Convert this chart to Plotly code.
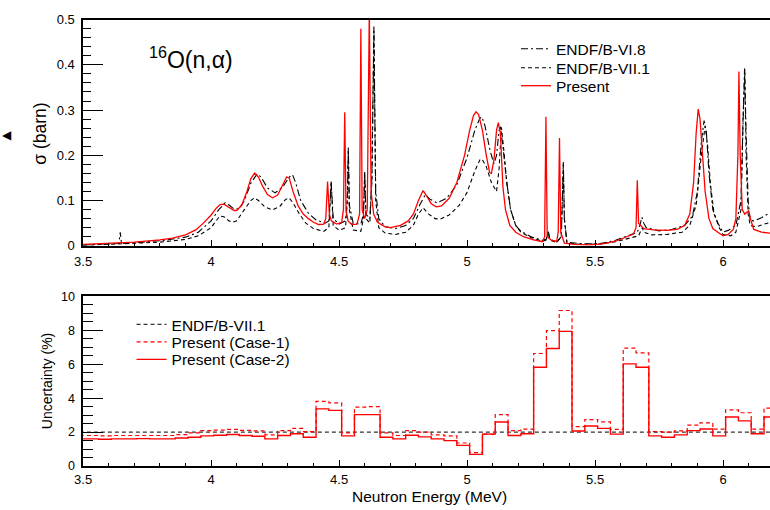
import plotly.graph_objects as go

# ---------------- data: cross sections (MeV, barn) ----------------
e_present = [3.50, 3.60, 3.70, 3.80, 3.85, 3.90, 3.94, 3.97, 4.00, 4.02, 4.035, 4.05, 4.07, 4.09, 4.10,
             4.12, 4.14, 4.155, 4.17, 4.185, 4.20, 4.22, 4.24, 4.26, 4.28, 4.295, 4.305, 4.32, 4.34, 4.36,
             4.38, 4.40, 4.42, 4.44, 4.448, 4.455, 4.462, 4.47, 4.49, 4.51, 4.517, 4.522, 4.527, 4.535,
             4.55, 4.57, 4.58, 4.585, 4.59, 4.60, 4.61, 4.618, 4.625, 4.635, 4.65, 4.68, 4.70, 4.74, 4.77,
             4.79, 4.81, 4.828, 4.84, 4.86, 4.88, 4.90, 4.93, 4.96, 4.99, 5.01, 5.025, 5.035, 5.045, 5.06,
             5.075, 5.088, 5.095, 5.105, 5.115, 5.122, 5.13, 5.14, 5.15, 5.167, 5.19, 5.22, 5.26, 5.295,
             5.303, 5.308, 5.313, 5.33, 5.35, 5.356, 5.361, 5.366, 5.38, 5.42, 5.48, 5.53, 5.58, 5.62, 5.65,
             5.66, 5.665, 5.67, 5.69, 5.73, 5.78, 5.82, 5.85, 5.87, 5.885, 5.895, 5.903, 5.91, 5.92, 5.93,
             5.945, 5.96, 5.98, 6.00, 6.02, 6.04, 6.05, 6.058, 6.062, 6.067, 6.075, 6.085, 6.095, 6.10,
             6.107, 6.12, 6.15, 6.20]
s_present = [0.003, 0.005, 0.008, 0.013, 0.017, 0.024, 0.035, 0.050, 0.068, 0.083, 0.091, 0.092, 0.085, 0.078, 0.078,
             0.090, 0.120, 0.148, 0.161, 0.152, 0.133, 0.113, 0.106, 0.112, 0.135, 0.152, 0.150, 0.120, 0.088, 0.070,
             0.060, 0.052, 0.047, 0.048, 0.060, 0.142, 0.070, 0.055, 0.048, 0.052, 0.080, 0.295, 0.080, 0.055,
             0.047, 0.048, 0.070, 0.480, 0.080, 0.060, 0.080, 0.520, 0.120, 0.070, 0.052, 0.042, 0.040, 0.045, 0.055,
             0.070, 0.100, 0.122, 0.112, 0.093, 0.086, 0.088, 0.105, 0.140, 0.200, 0.255, 0.288, 0.296, 0.290, 0.255,
             0.200, 0.162, 0.160, 0.190, 0.255, 0.272, 0.250, 0.130, 0.080, 0.045, 0.030, 0.020, 0.013, 0.009,
             0.020, 0.285, 0.020, 0.012, 0.010, 0.030, 0.238, 0.030, 0.006, 0.003, 0.002, 0.004, 0.010, 0.020, 0.026,
             0.040, 0.145, 0.050, 0.038, 0.035, 0.034, 0.036, 0.045, 0.070, 0.140, 0.250, 0.302, 0.280, 0.200, 0.120,
             0.060, 0.038, 0.030, 0.022, 0.025, 0.036, 0.060, 0.200, 0.385, 0.200, 0.080, 0.070, 0.075, 0.077,
             0.060, 0.036, 0.030, 0.027]

e_b6 = [3.50, 3.60, 3.64, 3.645, 3.65, 3.70, 3.80, 3.90, 3.95, 4.00, 4.03, 4.055, 4.07, 4.09, 4.11, 4.13,
        4.155, 4.18, 4.195, 4.22, 4.25, 4.28, 4.305, 4.318, 4.33, 4.35, 4.38, 4.41, 4.445, 4.46, 4.469, 4.477,
        4.50, 4.525, 4.532, 4.536, 4.54, 4.555, 4.585, 4.595, 4.60, 4.605, 4.62, 4.628, 4.636, 4.643, 4.655,
        4.68, 4.72, 4.76, 4.79, 4.815, 4.837, 4.855, 4.882, 4.92, 4.96, 5.00, 5.03, 5.05, 5.058, 5.07, 5.09,
        5.105, 5.115, 5.125, 5.13, 5.14, 5.155, 5.17, 5.19, 5.21, 5.25, 5.295, 5.31, 5.317, 5.323, 5.35,
        5.368, 5.372, 5.376, 5.38, 5.39, 5.45, 5.52, 5.58, 5.63, 5.665, 5.675, 5.683, 5.69, 5.70, 5.75, 5.80,
        5.85, 5.88, 5.90, 5.915, 5.926, 5.935, 5.945, 5.96, 5.98, 6.00, 6.02, 6.05, 6.07, 6.078, 6.084, 6.09,
        6.098, 6.106, 6.12, 6.15, 6.18, 6.20]
s_b6 = [0.002, 0.004, 0.005, 0.030, 0.005, 0.007, 0.011, 0.019, 0.030, 0.055, 0.080, 0.095, 0.090, 0.081, 0.082, 0.100,
        0.138, 0.159, 0.152, 0.128, 0.117, 0.130, 0.152, 0.157, 0.140, 0.100, 0.072, 0.057, 0.050, 0.055, 0.142, 0.060,
        0.048, 0.055, 0.100, 0.217, 0.090, 0.050, 0.048, 0.070, 0.163, 0.070, 0.060, 0.150, 0.485, 0.120, 0.060,
        0.042, 0.038, 0.045, 0.060, 0.090, 0.113, 0.103, 0.095, 0.105, 0.135, 0.195, 0.255, 0.282, 0.285, 0.265, 0.210,
        0.181, 0.200, 0.255, 0.263, 0.220, 0.140, 0.080, 0.045, 0.032, 0.020, 0.012, 0.015, 0.034, 0.015, 0.008,
        0.020, 0.100, 0.185, 0.060, 0.008, 0.004, 0.005, 0.012, 0.022, 0.030, 0.045, 0.063, 0.050, 0.040, 0.033, 0.036,
        0.045, 0.065, 0.120, 0.230, 0.277, 0.250, 0.160, 0.080, 0.050, 0.030, 0.034, 0.045, 0.100, 0.300, 0.392, 0.250,
        0.100, 0.056, 0.055, 0.062, 0.072, 0.076]

e_b7 = [3.50, 3.60, 3.70, 3.80, 3.90, 3.95, 4.00, 4.02, 4.034, 4.05, 4.07, 4.085, 4.10, 4.13, 4.155, 4.169,
        4.185, 4.21, 4.24, 4.27, 4.29, 4.304, 4.32, 4.345, 4.37, 4.40, 4.44, 4.46, 4.469, 4.477, 4.50, 4.525,
        4.532, 4.536, 4.54, 4.555, 4.585, 4.595, 4.60, 4.605, 4.62, 4.628, 4.636, 4.643, 4.655, 4.68, 4.72,
        4.76, 4.79, 4.81, 4.828, 4.85, 4.875, 4.895, 4.93, 4.97, 5.00, 5.03, 5.05, 5.058, 5.075, 5.095, 5.115,
        5.125, 5.134, 5.142, 5.155, 5.17, 5.19, 5.21, 5.25, 5.295, 5.31, 5.317, 5.323, 5.35, 5.368, 5.372,
        5.376, 5.38, 5.39, 5.45, 5.52, 5.58, 5.63, 5.67, 5.68, 5.685, 5.69, 5.72, 5.78, 5.84, 5.87, 5.895,
        5.915, 5.93, 5.94, 5.95, 5.965, 5.985, 6.00, 6.03, 6.05, 6.07, 6.078, 6.085, 6.09, 6.098, 6.106, 6.13,
        6.16, 6.20]
s_b7 = [0.001, 0.003, 0.005, 0.008, 0.014, 0.022, 0.040, 0.055, 0.066, 0.064, 0.055, 0.052, 0.055, 0.080, 0.100, 0.106,
        0.100, 0.086, 0.079, 0.088, 0.102, 0.106, 0.095, 0.070, 0.050, 0.038, 0.032, 0.040, 0.140, 0.045, 0.034, 0.040,
        0.100, 0.210, 0.080, 0.035, 0.032, 0.060, 0.160, 0.060, 0.050, 0.140, 0.475, 0.100, 0.040, 0.028, 0.025,
        0.030, 0.045, 0.070, 0.084, 0.070, 0.060, 0.059, 0.068, 0.090, 0.118, 0.165, 0.190, 0.192, 0.175, 0.140, 0.120,
        0.170, 0.262, 0.220, 0.140, 0.080, 0.045, 0.030, 0.018, 0.010, 0.013, 0.030, 0.013, 0.007, 0.020, 0.100,
        0.180, 0.060, 0.006, 0.003, 0.004, 0.009, 0.016, 0.022, 0.035, 0.040, 0.030, 0.024, 0.025, 0.030, 0.045, 0.090,
        0.200, 0.265, 0.220, 0.140, 0.070, 0.040, 0.025, 0.022, 0.030, 0.080, 0.280, 0.390, 0.200, 0.070, 0.045, 0.042,
        0.048, 0.054]

# ---------------- data: uncertainties (%) ----------------
bin_edges = [3.46, 3.51, 3.56, 3.61, 3.66, 3.71, 3.76, 3.81, 3.86, 3.91, 3.96, 4.01, 4.06, 4.11, 4.16, 4.21,
             4.26, 4.31, 4.36, 4.41, 4.46, 4.51, 4.56, 4.61, 4.66, 4.71, 4.76, 4.81, 4.86, 4.91, 4.96, 5.01,
             5.06, 5.11, 5.16, 5.21, 5.26, 5.31, 5.36, 5.41, 5.46, 5.51, 5.56, 5.61, 5.66, 5.71, 5.76, 5.81,
             5.86, 5.91, 5.96, 6.01, 6.06, 6.11, 6.16, 6.21]
unc_case2 = [1.60, 1.60, 1.58, 1.60, 1.60, 1.62, 1.60, 1.60, 1.65, 1.70, 1.78, 1.82, 1.86, 1.80, 1.76, 1.60,
             1.80, 1.90, 1.70, 3.37, 3.28, 1.78, 3.03, 3.03, 1.70, 1.60, 1.82, 1.72, 1.60, 1.50, 1.22, 0.69,
             1.88, 2.60, 1.80, 1.90, 5.82, 6.92, 7.93, 2.07, 2.36, 2.22, 1.88, 6.02, 5.82, 1.78, 1.70, 1.84,
             2.09, 2.18, 1.78, 2.89, 2.66, 1.90, 2.89]
unc_case1 = [1.80, 1.80, 1.78, 1.80, 1.80, 1.80, 1.80, 1.80, 1.85, 1.95, 2.09, 2.12, 2.16, 2.10, 2.07, 1.84,
             2.09, 2.22, 2.03, 3.81, 3.72, 1.95, 3.47, 3.50, 1.95, 1.80, 2.09, 2.00, 1.84, 1.78, 1.36, 0.79,
             1.88, 3.03, 2.09, 2.18, 6.63, 7.97, 9.16, 2.32, 2.74, 2.60, 2.16, 6.95, 6.67, 2.03, 2.00, 2.07,
             2.41, 2.55, 2.18, 3.31, 3.14, 2.18, 3.41]
e_unc_b7 = [3.46, 6.21]
unc_b7 = [2.0, 2.0]

legend_top_names = ["ENDF/B-VI.8", "ENDF/B-VII.1", "Present"]
legend_bot_names = ["ENDF/B-VII.1", "Present (Case-1)", "Present (Case-2)"]

# ---------------- figure ----------------
W, H = 770, 510
FONT = "Liberation Sans, Arial, sans-serif"


def px_x(p):
    return p / W


def px_y(p):
    return 1 - p / H


def steps(edges, vals):
    return list(edges), list(vals) + [vals[-1]]


fig = go.Figure()

# top panel
fig.add_trace(go.Scatter(x=e_b6, y=s_b6, mode="lines", name=legend_top_names[0],
                         line=dict(color="black", width=1.1, dash="7px,3px,2px,3px"),
                         xaxis="x", yaxis="y", legend="legend"))
fig.add_trace(go.Scatter(x=e_b7, y=s_b7, mode="lines", name=legend_top_names[1],
                         line=dict(color="black", width=1.1, dash="4px,3px"),
                         xaxis="x", yaxis="y", legend="legend2"))
fig.add_trace(go.Scatter(x=e_present, y=s_present, mode="lines", name=legend_top_names[2],
                         line=dict(color="#ff0000", width=1.3),
                         xaxis="x", yaxis="y", legend="legend3"))

# bottom panel
fig.add_trace(go.Scatter(x=e_unc_b7, y=unc_b7, mode="lines", name=legend_bot_names[0],
                         line=dict(color="#333333", width=1.3, dash="4px,3px"),
                         xaxis="x2", yaxis="y2", legend="legend4"))
sx, sy1 = steps(bin_edges, unc_case1)
fig.add_trace(go.Scatter(x=sx, y=sy1, mode="lines", name=legend_bot_names[1], line_shape="hv",
                         line=dict(color="#ff0000", width=1.2, dash="4px,3px"),
                         xaxis="x2", yaxis="y2", legend="legend5"))
sx, sy2 = steps(bin_edges, unc_case2)
fig.add_trace(go.Scatter(x=sx, y=sy2, mode="lines", name=legend_bot_names[2], line_shape="hv",
                         line=dict(color="#ff0000", width=1.4),
                         xaxis="x2", yaxis="y2", legend="legend6"))

xr = [3.5, 3.5 + (W - 75) / 259.0]


def xaxis_cfg(anchor, standoff):
    return dict(range=xr, showgrid=False, zeroline=False, showline=True, linecolor="black", linewidth=1.5,
                mirror=True, ticks="inside", ticklen=6, tickwidth=1, tickcolor="black",
                tickvals=[3.5, 4, 4.5, 5, 5.5, 6], ticktext=["3.5", "4", "4.5", "5", "5.5", "6"],
                minor=dict(ticks="inside", ticklen=3, dtick=0.1, tick0=3.5, tickcolor="black", showgrid=False),
                tickfont=dict(family=FONT, size=13, color="black"), ticklabelstandoff=standoff,
                domain=[px_x(75), 1.0], anchor=anchor)


def leg(xp, yp, size):
    return dict(x=px_x(xp), y=px_y(yp), xanchor="left", yanchor="top", bgcolor="rgba(0,0,0,0)",
                font=dict(family=FONT, size=size, color="black"), itemwidth=30)


fig.update_layout(
    width=W, height=H, margin=dict(l=0, r=0, t=0, b=0),
    paper_bgcolor="white", plot_bgcolor="white",
    font=dict(family=FONT, color="black"),
    xaxis=xaxis_cfg("y", 3),
    yaxis=dict(domain=[px_y(246), px_y(13)], anchor="x", range=[0, 0.5], showgrid=False, zeroline=False,
               showline=True, linecolor="black", linewidth=1.5, ticks="inside", ticklen=20, tickwidth=1,
               tickcolor="black", tickvals=[0, 0.1, 0.2, 0.3, 0.4, 0.5],
               ticktext=["0", "0.1", "0.2", "0.3", "0.4", "0.5"],
               minor=dict(ticks="inside", ticklen=8, dtick=0.02, tick0=0, tickcolor="black", showgrid=False),
               tickfont=dict(family=FONT, size=13, color="black"), ticklabelstandoff=4),
    xaxis2=xaxis_cfg("y2", 1),
    yaxis2=dict(domain=[px_y(473), px_y(298)], anchor="x2", range=[0, 10], showgrid=False, zeroline=False,
                showline=True, linecolor="black", linewidth=1.5, ticks="inside", ticklen=20, tickwidth=1,
                tickcolor="black", tickvals=[0, 2, 4, 6, 8, 10],
                ticktext=["0", "2", "4", "6", "8", "10"],
                minor=dict(ticks="inside", ticklen=10, dtick=0.5, tick0=0, tickcolor="black", showgrid=False),
                tickfont=dict(family=FONT, size=12.5, color="black"), ticklabelstandoff=4),
    legend=leg(513, 26, 15.5),
    legend2=leg(513, 45.5, 15.5),
    legend3=leg(513, 64, 15.5),
    legend4=leg(124, 310, 15.5),
    legend5=leg(124, 328, 15.5),
    legend6=leg(124, 346, 15.5),
    showlegend=True,
)

annotations = [
    dict(text="<sup>16</sup>O(n,α)", x=px_x(140), y=px_y(53), xref="paper", yref="paper",
         xanchor="left", yanchor="middle", showarrow=False, font=dict(family=FONT, size=23, color="black")),
    dict(text="σ (barn)", x=px_x(32), y=px_y(131), xref="paper", yref="paper", textangle=-90,
         xanchor="center", yanchor="middle", showarrow=False, font=dict(family=FONT, size=17.5, color="black")),
    dict(text="Uncertainty (%)", x=px_x(38), y=px_y(386), xref="paper", yref="paper", textangle=-90,
         xanchor="center", yanchor="middle", showarrow=False, font=dict(family=FONT, size=14, color="black")),
    dict(text="Neutron Energy (MeV)", x=px_x(425), y=px_y(504), xref="paper", yref="paper",
         xanchor="center", yanchor="middle", showarrow=False, font=dict(family=FONT, size=15.5, color="black")),
    dict(text="◀", x=px_x(5), y=px_y(132), xref="paper", yref="paper",
         xanchor="right", yanchor="middle", showarrow=False, font=dict(family=FONT, size=12, color="black")),
]
fig.update_layout(annotations=annotations)

fig.write_html("out.html")
